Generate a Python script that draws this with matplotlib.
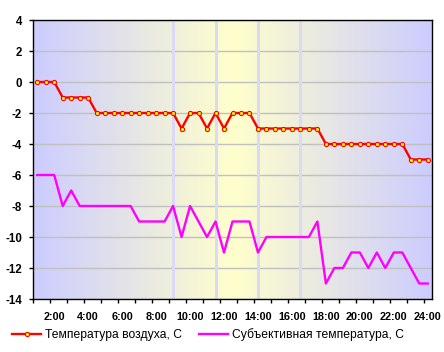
import numpy as np
import matplotlib
matplotlib.use("Agg")
import matplotlib.pyplot as plt
from matplotlib.colors import LinearSegmentedColormap

plt.rcParams['font.family'] = ['Liberation Sans', 'DejaVu Sans']

# half-hourly readings, 1:00 .. 24:00
times = [f"{h // 2}:{'30' if h % 2 else '00'}" for h in range(2, 49)]
air_temp = [0, 0, 0, -1, -1, -1, -1, -2, -2, -2, -2, -2, -2, -2, -2, -2, -2,
            -3, -2, -2, -3, -2, -3, -2, -2, -2, -3, -3, -3, -3, -3, -3, -3, -3,
            -4, -4, -4, -4, -4, -4, -4, -4, -4, -4, -5, -5, -5]
feels_temp = [-6, -6, -6, -8, -7, -8, -8, -8, -8, -8, -8, -8, -9, -9, -9, -9,
              -8, -10, -8, -9, -10, -9, -11, -9, -9, -9, -11, -10, -10, -10,
              -10, -10, -10, -9, -13, -12, -12, -11, -11, -12, -11, -12, -11,
              -11, -12, -13, -13]
marker_times = ["9:00", "11:30", "14:00", "16:30"]
label_times = ["2:00", "4:00", "6:00", "8:00", "10:00", "12:00", "14:00",
               "16:00", "18:00", "20:00", "22:00", "24:00"]
y_ticks = [4, 2, 0, -2, -4, -6, -8, -10, -12, -14]

x = np.arange(len(times))

fig = plt.figure(figsize=(4.44, 3.52), dpi=100)
ax = fig.add_axes([33 / 444, 1 - 299 / 352, 399 / 444, 279 / 352])

# blue -> yellow -> blue background
cmap = LinearSegmentedColormap.from_list(
    "bg", ["#ccccff", "#ffffcc", "#ccccff"])
grad = np.linspace(0, 1, 256).reshape(1, -1)
ax.imshow(grad, cmap=cmap, aspect="auto", extent=[0, 1, 0, 1],
          transform=ax.transAxes, zorder=0, interpolation="bilinear")

for t in marker_times:
    ax.axvline(times.index(t), color="#dadaf6", lw=2.2, zorder=1)

ax.set_ylim(-14, 4)
ax.set_xlim(-0.5, len(times) - 0.5)
ax.set_yticks(y_ticks)
ax.set_yticklabels([str(v) for v in y_ticks], fontsize=8.3, fontweight="bold")
ax.grid(axis="y", color="#c0c0c0", lw=1, zorder=1)
ax.set_axisbelow(True)

ax.set_xticks([times.index(t) for t in label_times])
ax.set_xticklabels(label_times, fontsize=7.8, fontweight="bold")
ax.set_xticks(np.arange(-0.5, len(times) - 1, 2), minor=True)
ax.tick_params(axis="x", which="major", length=0, pad=9)
ax.tick_params(axis="x", which="minor", length=3, width=1, direction="out")
ax.tick_params(axis="y", length=3, width=1, direction="out", pad=5)

for s in ax.spines.values():
    s.set_color("black")
    s.set_linewidth(1)
    s.set_zorder(5)

ax.plot(x, air_temp, color="#ff0000", lw=1.7, marker="o", markersize=3,
        markerfacecolor="#ffff00", markeredgecolor="#ff0000",
        markeredgewidth=0.8, zorder=4, label="Температура воздуха, С")
ax.plot(x, feels_temp, color="#ff00ff", lw=1.7, zorder=3,
        label="Субъективная температура, С")

fig.legend(loc="center", bbox_to_anchor=(208 / 444, 1 - 335 / 352), ncol=2,
           frameon=False, fontsize=8.7, handlelength=2.4, handletextpad=0.3,
           columnspacing=1.4, borderpad=0, numpoints=1)

fig.savefig("out.png", dpi=100)
